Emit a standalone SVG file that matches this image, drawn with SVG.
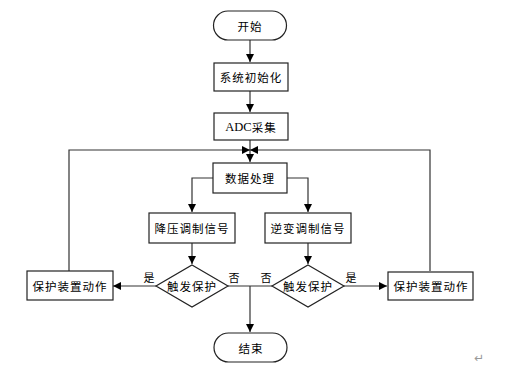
<svg xmlns="http://www.w3.org/2000/svg" width="516" height="373" viewBox="0 0 516 373">
<defs>
<marker id="ah" viewBox="0 0 10 10" refX="10" refY="5" markerWidth="8" markerHeight="8" markerUnits="userSpaceOnUse" orient="auto">
<path d="M0,0 L10,5 L0,10 z" fill="#000"/>
</marker>
</defs>
<style>
.box{fill:#fff;stroke:#222;stroke-width:1.2}
.t{font-family:"Noto Sans CJK SC","Liberation Sans",sans-serif;font-size:11.5px;letter-spacing:1px;fill:#000;text-anchor:middle;dominant-baseline:central}
.lbl{font-family:"Noto Sans CJK SC","Liberation Sans",sans-serif;font-size:11px;fill:#000;text-anchor:middle;dominant-baseline:central}
.c{fill:none;stroke:#333;stroke-width:1.2}
.serif{font-family:"Liberation Serif",serif;font-size:12.5px;letter-spacing:0}
</style>
<rect width="516" height="373" fill="#fff"/>
<g id="connectors">
<path class="c" d="M250,40 V62" marker-end="url(#ah)"/>
<path class="c" d="M250,91 V112" marker-end="url(#ah)"/>
<path class="c" d="M250,140 V162" marker-end="url(#ah)"/>
<path class="c" d="M213,178 H192 V212" marker-end="url(#ah)"/>
<path class="c" d="M287,178 H308 V212" marker-end="url(#ah)"/>
<path class="c" d="M192,243 V264" marker-end="url(#ah)"/>
<path class="c" d="M308,243 V264" marker-end="url(#ah)"/>
<path class="c" d="M156,286 H113" marker-end="url(#ah)"/>
<path class="c" d="M344,286 H387" marker-end="url(#ah)"/>
<path class="c" d="M228,286 H272"/>
<path class="c" d="M250,286 V332" marker-end="url(#ah)"/>
<path class="c" d="M69,271 V150 H250" marker-end="url(#ah)"/>
<path class="c" d="M430,271 V150 H250" marker-end="url(#ah)"/>
</g>
<g id="start"><rect class="box" x="213.5" y="11" width="73" height="29" rx="14.5"/><text class="t" x="250" y="25.5">开始</text></g>
<g id="init"><rect class="box" x="214" y="63" width="74" height="28"/><text class="t" x="251" y="77">系统初始化</text></g>
<g id="adc"><rect class="box" x="214" y="113" width="74" height="27"/><text class="t" x="251" y="126.5"><tspan class="serif">ADC</tspan>采集</text></g>
<g id="process"><rect class="box" x="213" y="163" width="74" height="30"/><text class="t" x="250" y="178">数据处理</text></g>
<g id="buck"><rect class="box" x="149" y="213" width="86" height="30"/><text class="t" x="192" y="228">降压调制信号</text></g>
<g id="inverter"><rect class="box" x="265" y="213" width="86" height="30"/><text class="t" x="308" y="228">逆变调制信号</text></g>
<g id="dec1"><polygon class="box" points="192,265 228,286 192,307 156,286"/><text class="t" x="192" y="286">触发保护</text></g>
<g id="dec2"><polygon class="box" points="308,265 344,286 308,307 272,286"/><text class="t" x="308" y="286">触发保护</text></g>
<g id="prot1"><rect class="box" x="27" y="271" width="86" height="29"/><text class="t" x="70" y="285.5">保护装置动作</text></g>
<g id="prot2"><rect class="box" x="388" y="272" width="85" height="28"/><text class="t" x="431" y="286">保护装置动作</text></g>
<g id="end"><rect class="box" x="214" y="333" width="73" height="29" rx="14.5"/><text class="t" x="251" y="347.5">结束</text></g>
<g id="labels">
<text class="lbl" x="149" y="277">是</text>
<text class="lbl" x="234" y="277">否</text>
<text class="lbl" x="266" y="277">否</text>
<text class="lbl" x="351" y="277">是</text>
<text x="479" y="358" font-family="DejaVu Sans,sans-serif" font-size="12" fill="#999" text-anchor="middle" dominant-baseline="central">↵</text>
</g>
</svg>
